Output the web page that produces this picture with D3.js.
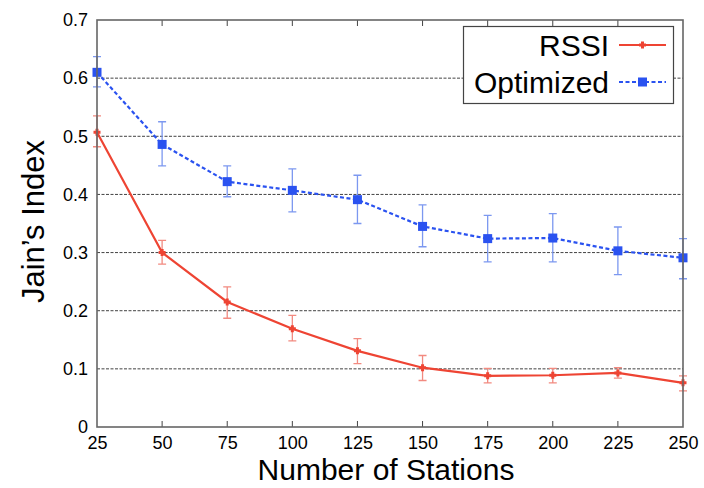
<!DOCTYPE html>
<html>
<head>
<meta charset="utf-8">
<script src="https://cdn.jsdelivr.net/npm/d3@7"></script>
<style>
  body { margin: 0; background: #fff; }
  text { font-family: "Liberation Sans", Arial, sans-serif; fill: #000; }
</style>
</head>
<body>
<svg class="chart"></svg>
<script>
(function () {
    'use strict';

    /* Data */

    var stations = [25, 50, 75, 100, 125, 150, 175, 200, 225, 250];

    var rssi     = [0.507, 0.300, 0.215, 0.169, 0.131, 0.102, 0.088, 0.089, 0.093, 0.076];
    var rssiLo   = [0.482, 0.280, 0.187, 0.148, 0.109, 0.080, 0.076, 0.076, 0.084, 0.062];
    var rssiHi   = [0.535, 0.321, 0.241, 0.192, 0.152, 0.123, 0.101, 0.101, 0.102, 0.088];

    var optim    = [0.610, 0.486, 0.422, 0.407, 0.391, 0.345, 0.324, 0.325, 0.303, 0.291];
    var optimLo  = [0.585, 0.449, 0.396, 0.370, 0.350, 0.310, 0.284, 0.284, 0.262, 0.255];
    var optimHi  = [0.637, 0.525, 0.449, 0.444, 0.433, 0.382, 0.364, 0.367, 0.344, 0.324];

    var yTicks = [0, 0.1, 0.2, 0.3, 0.4, 0.5, 0.6, 0.7];

    /* Setup SVG */

    var width = 704, height = 488,
        margin = {top: 20, right: 21, bottom: 61, left: 97};

    var svg = d3.select('.chart')
        .attr('width', width)
        .attr('height', height);

    var x = d3.scaleLinear().domain([25, 250]).range([margin.left, width - margin.right]),
        y = d3.scaleLinear().domain([0, 0.7]).range([height - margin.bottom, margin.top]);

    /* Grid */

    svg.append('g').selectAll('line')
        .data(yTicks.slice(1, -1))
        .enter().append('line')
        .attr('x1', x(25)).attr('x2', x(250))
        .attr('y1', function (d) { return y(d); })
        .attr('y2', function (d) { return y(d); })
        .style('stroke', '#111').style('stroke-width', 0.8)
        .style('stroke-dasharray', '3,1.5');

    /* Axes */

    var xAxis = svg.append('g')
        .attr('transform', 'translate(0,' + y(0) + ')')
        .call(d3.axisBottom(x).tickValues(stations).tickSize(0).tickPadding(9));
    xAxis.select('.domain').remove();
    xAxis.selectAll('text').style('font-size', '18px');

    var yAxis = svg.append('g')
        .attr('transform', 'translate(' + x(25) + ',0)')
        .call(d3.axisLeft(y).tickValues(yTicks).tickSize(0).tickPadding(9)
            .tickFormat(function (d) { return d === 0 ? '0' : d3.format('.1f')(d); }));
    yAxis.select('.domain').remove();
    yAxis.selectAll('text').style('font-size', '18px');

    /* inward ticks on top and bottom */
    svg.append('g').selectAll('line')
        .data(stations.slice(1, -1))
        .enter().append('line')
        .attr('x1', function (d) { return x(d); })
        .attr('x2', function (d) { return x(d); })
        .attr('y1', y(0)).attr('y2', y(0) - 6)
        .style('stroke', '#444').style('stroke-width', 1);
    svg.append('g').selectAll('line')
        .data(stations.slice(1, -1))
        .enter().append('line')
        .attr('x1', function (d) { return x(d); })
        .attr('x2', function (d) { return x(d); })
        .attr('y1', y(0.7)).attr('y2', y(0.7) + 6)
        .style('stroke', '#444').style('stroke-width', 1);

    /* Series */

    var series = [
        {name: 'RSSI', vals: rssi, lo: rssiLo, hi: rssiHi, color: '#ee4433', err: '#f28a80', dash: null, marker: 'plus'},
        {name: 'Optimized', vals: optim, lo: optimLo, hi: optimHi, color: '#2a52f0', err: '#7c98f0', dash: '4,2.5', marker: 'square'}
    ];

    var line = d3.line()
        .x(function (d) { return x(d[0]); })
        .y(function (d) { return y(d[1]); });

    series.forEach(function (s) {
        var g = svg.append('g');

        var bars = stations.map(function (st, i) { return [st, s.lo[i], s.hi[i]]; });
        g.selectAll('.eb').data(bars).enter().append('path')
            .attr('d', function (d) {
                var cx = x(d[0]), y0 = y(d[1]), y1 = y(d[2]);
                return 'M' + cx + ',' + y0 + 'V' + y1 +
                    'M' + (cx - 4) + ',' + y0 + 'H' + (cx + 4) +
                    'M' + (cx - 4) + ',' + y1 + 'H' + (cx + 4);
            })
            .style('fill', 'none').style('stroke', s.err).style('stroke-width', 1.3);

        var pts = stations.map(function (st, i) { return [st, s.vals[i]]; });
        g.append('path').datum(pts)
            .attr('d', line)
            .style('fill', 'none').style('stroke', s.color)
            .style('stroke-width', 2.2)
            .style('stroke-dasharray', s.dash);

        drawMarkers(g, pts.map(function (p) { return [x(p[0]), y(p[1])]; }), s);
    });

    function drawMarkers(g, pts, s) {
        if (s.marker === 'square') {
            g.selectAll('.m').data(pts).enter().append('rect')
                .attr('x', function (d) { return d[0] - 4.5; })
                .attr('y', function (d) { return d[1] - 4.5; })
                .attr('width', 9).attr('height', 9)
                .style('fill', s.color);
        } else {
            g.selectAll('.m').data(pts).enter().append('path')
                .attr('d', function (d) {
                    return 'M' + (d[0] - 3.5) + ',' + d[1] + 'H' + (d[0] + 3.5) +
                        'M' + d[0] + ',' + (d[1] - 3.5) + 'V' + (d[1] + 3.5);
                })
                .style('stroke', s.color).style('stroke-width', 3);
        }
    }

    /* Frame */

    svg.append('rect')
        .attr('x', x(25)).attr('y', y(0.7))
        .attr('width', x(250) - x(25)).attr('height', y(0) - y(0.7))
        .style('fill', 'none').style('stroke', '#666').style('stroke-width', 1.6);

    /* Legend */

    var lg = svg.append('g');
    lg.append('rect')
        .attr('x', 463.5).attr('y', 26.5).attr('width', 210).attr('height', 77)
        .style('fill', '#fff').style('stroke', '#444').style('stroke-width', 1.2);

    series.forEach(function (s, i) {
        var ly = 45 + i * 37;
        lg.append('text')
            .attr('x', 609).attr('y', ly)
            .attr('dy', '0.36em')
            .attr('text-anchor', 'end')
            .style('font-size', '30px')
            .text(s.name);
        lg.append('line')
            .attr('x1', 619).attr('x2', 666)
            .attr('y1', ly).attr('y2', ly)
            .style('stroke', s.color).style('stroke-width', 2)
            .style('stroke-dasharray', s.dash);
        drawMarkers(lg, [[642.5, ly]], s);
    });

    /* Titles */

    svg.append('text')
        .attr('x', (x(25) + x(250)) / 2 - 4).attr('y', 480)
        .attr('text-anchor', 'middle')
        .style('font-size', '30px')
        .text('Number of Stations');

    svg.append('text')
        .attr('transform', 'translate(44,' + (y(0.35) - 2) + ') rotate(-90)')
        .attr('text-anchor', 'middle')
        .style('font-size', '31px')
        .text('Jain\u2019s Index');
})();
</script>
</body>
</html>
